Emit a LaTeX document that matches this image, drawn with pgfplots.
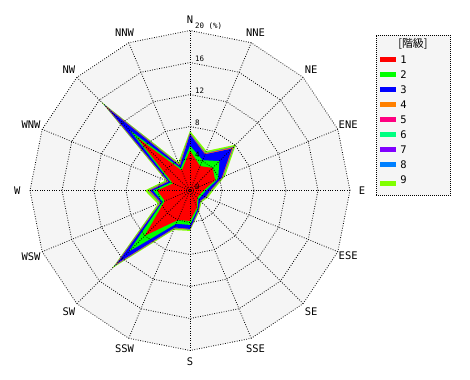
\documentclass[border=0pt]{standalone}
\usepackage{fontspec}
\setmainfont{DejaVu Sans}
\setmonofont{DejaVu Sans Mono}
\newfontfamily\cjk{Noto Sans CJK JP}
\usepackage{pgfplots}
\usepackage{pgfplotstable}
\pgfplotsset{compat=1.18}
\usepgfplotslibrary{polar}

\definecolor{k1}{RGB}{255,0,0}
\definecolor{k2}{RGB}{0,255,0}
\definecolor{k3}{RGB}{0,0,255}
\definecolor{k4}{RGB}{255,128,0}
\definecolor{k5}{RGB}{255,0,128}
\definecolor{k6}{RGB}{0,255,128}
\definecolor{k7}{RGB}{128,0,255}
\definecolor{k8}{RGB}{0,128,255}
\definecolor{k9}{RGB}{128,255,0}
\definecolor{bgc}{RGB}{245,245,245}

\pgfplotstableread{
a c1 c2 c3 c4 c5 c6 c7 c8 c9
0 1.7 2.0 2.5 2.56 2.60 2.62 2.63 2.65 2.9
22.5 3.4 3.8 4.3 4.36 4.40 4.42 4.43 4.45 4.75
45 4.0 5.2 7.4 7.56 7.65 7.69 7.71 7.75 8.1
67.5 3.3 4.1 4.9 4.96 5.00 5.02 5.03 5.05 5.35
90 5.0 5.6 7.0 7.06 7.10 7.12 7.13 7.15 7.45
112.5 2.7 3.0 3.3 3.38 3.44 3.47 3.48 3.50 3.8
135 9.4 10.6 14.5 14.8 15.0 15.1 15.15 15.2 15.65
157.5 2.3 2.6 2.9 2.96 3.0 3.02 3.03 3.05 3.3
180 4.1 4.6 5.0 5.1 5.16 5.2 5.22 5.25 5.65
202.5 3.4 3.7 3.9 3.96 4.0 4.02 4.03 4.05 4.35
225 8.0 10.8 12.9 13.06 13.18 13.24 13.28 13.32 13.7
247.5 4.0 4.5 5.0 5.04 5.07 5.08 5.09 5.1 5.35
270 3.8 4.3 4.8 4.83 4.85 4.86 4.87 4.88 5.05
292.5 2.3 2.5 2.7 2.72 2.74 2.75 2.75 2.76 2.95
315 1.3 1.5 1.8 1.82 1.84 1.85 1.85 1.86 2.05
337.5 1.3 1.6 2.1 2.13 2.16 2.17 2.17 2.18 2.4
360 1.7 2.0 2.5 2.56 2.60 2.62 2.63 2.65 2.9
}\wind

\pgfplotstableread{
a r4 r8 r12 r16 r20
0 4 8 12 16 20
22.5 4 8 12 16 20
45 4 8 12 16 20
67.5 4 8 12 16 20
90 4 8 12 16 20
112.5 4 8 12 16 20
135 4 8 12 16 20
157.5 4 8 12 16 20
180 4 8 12 16 20
202.5 4 8 12 16 20
225 4 8 12 16 20
247.5 4 8 12 16 20
270 4 8 12 16 20
292.5 4 8 12 16 20
315 4 8 12 16 20
337.5 4 8 12 16 20
360 4 8 12 16 20
}\rings

\tikzset{gridline/.style={black, line width=0.8bp, dash pattern=on 0.8bp off 1.6bp}}

\begin{document}
\begin{tikzpicture}
\path[use as bounding box] (-190bp,-189.5bp) rectangle (280bp,190.5bp);
\begin{polaraxis}[
  at={(0,0)}, anchor=center,
  width=320bp, height=320bp, scale only axis,
  xmin=0, xmax=360, ymin=0, ymax=20,
  hide axis, clip=false,
  xtick=\empty, ytick=\empty,
  reverse legend,
  legend cell align=left,
  legend image code/.code={\fill[#1] (0bp,-2.5bp) rectangle (16bp,2.5bp); \path (20bp,0bp);},
  legend style={
    at={(1.080,0.986)}, anchor=north west,
    draw=black, line width=0.8bp, dash pattern=on 0.8bp off 1.2bp,
    fill=bgc,
    inner xsep=4.3bp, inner ysep=4.8bp,
    row sep=7.5bp,
    font=\ttfamily\fontsize{10.5}{10.5}\selectfont,
    nodes={inner sep=0pt, text height=7.5bp, text depth=0bp},
  },
]
\addplot[fill=bgc, draw=none, forget plot] table[x=a, y=r20] {\rings};

\addplot[fill=k9, draw=none] table[x=a, y=c9] {\wind};
\addlegendentry[text depth=6.9bp]{9}
\addplot[fill=k8, draw=none] table[x=a, y=c8] {\wind};
\addlegendentry{8}
\addplot[fill=k7, draw=none] table[x=a, y=c7] {\wind};
\addlegendentry{7}
\addplot[fill=k6, draw=none] table[x=a, y=c6] {\wind};
\addlegendentry{6}
\addplot[fill=k5, draw=none] table[x=a, y=c5] {\wind};
\addlegendentry{5}
\addplot[fill=k4, draw=none] table[x=a, y=c4] {\wind};
\addlegendentry{4}
\addplot[fill=k3, draw=none] table[x=a, y=c3] {\wind};
\addlegendentry{3}
\addplot[fill=k2, draw=none] table[x=a, y=c2] {\wind};
\addlegendentry{2}
\addplot[fill=k1, draw=none] table[x=a, y=c1] {\wind};
\addlegendentry{1}
\addlegendimage{empty legend}
\addlegendentry[text depth=1bp]{\cjk\fontsize{11}{11}\selectfont\makebox[46bp][l]{\hspace*{-2bp}[階級]}}

\addplot[gridline, forget plot] table[x=a, y=r4] {\rings};
\addplot[gridline, forget plot] table[x=a, y=r8] {\rings};
\addplot[gridline, forget plot] table[x=a, y=r12] {\rings};
\addplot[gridline, forget plot] table[x=a, y=r16] {\rings};
\addplot[gridline, forget plot] table[x=a, y=r20] {\rings};
\addplot[gridline, forget plot] coordinates {(0,20) (180,20)};
\addplot[gridline, forget plot] coordinates {(22.5,20) (202.5,20)};
\addplot[gridline, forget plot] coordinates {(45,20) (225,20)};
\addplot[gridline, forget plot] coordinates {(67.5,20) (247.5,20)};
\addplot[gridline, forget plot] coordinates {(90,20) (270,20)};
\addplot[gridline, forget plot] coordinates {(112.5,20) (292.5,20)};
\addplot[gridline, forget plot] coordinates {(135,20) (315,20)};
\addplot[gridline, forget plot] coordinates {(157.5,20) (337.5,20)};

\begin{scope}[every node/.style={font=\ttfamily\fontsize{7.5}{7.5}\selectfont, anchor=south west, inner sep=0pt, xshift=5bp, yshift=1bp}]
\node at (axis cs:90,0) {0};
\node at (axis cs:90,4) {4};
\node at (axis cs:90,8) {8};
\node at (axis cs:90,12) {12};
\node at (axis cs:90,16) {16};
\node at (axis cs:90,20) {20 (\%)};
\end{scope}

\begin{scope}[every node/.style={font=\ttfamily\fontsize{10.5}{10.5}\selectfont, anchor=center, inner sep=0pt}]
\node at (axis cs:90,21.4) {N};
\node at (axis cs:67.5,21.4) {NNE};
\node at (axis cs:45,21.4) {NE};
\node at (axis cs:22.5,21.4) {ENE};
\node at (axis cs:0,21.5) {E};
\node at (axis cs:337.5,21.4) {ESE};
\node at (axis cs:315,21.4) {SE};
\node at (axis cs:292.5,21.4) {SSE};
\node at (axis cs:270,21.4) {S};
\node at (axis cs:247.5,21.4) {SSW};
\node at (axis cs:225,21.4) {SW};
\node at (axis cs:202.5,21.5) {WSW};
\node at (axis cs:180,21.6) {W};
\node at (axis cs:157.5,21.5) {WNW};
\node at (axis cs:135,21.4) {NW};
\node at (axis cs:112.5,21.4) {NNW};
\end{scope}
\end{polaraxis}
\end{tikzpicture}
\end{document}
